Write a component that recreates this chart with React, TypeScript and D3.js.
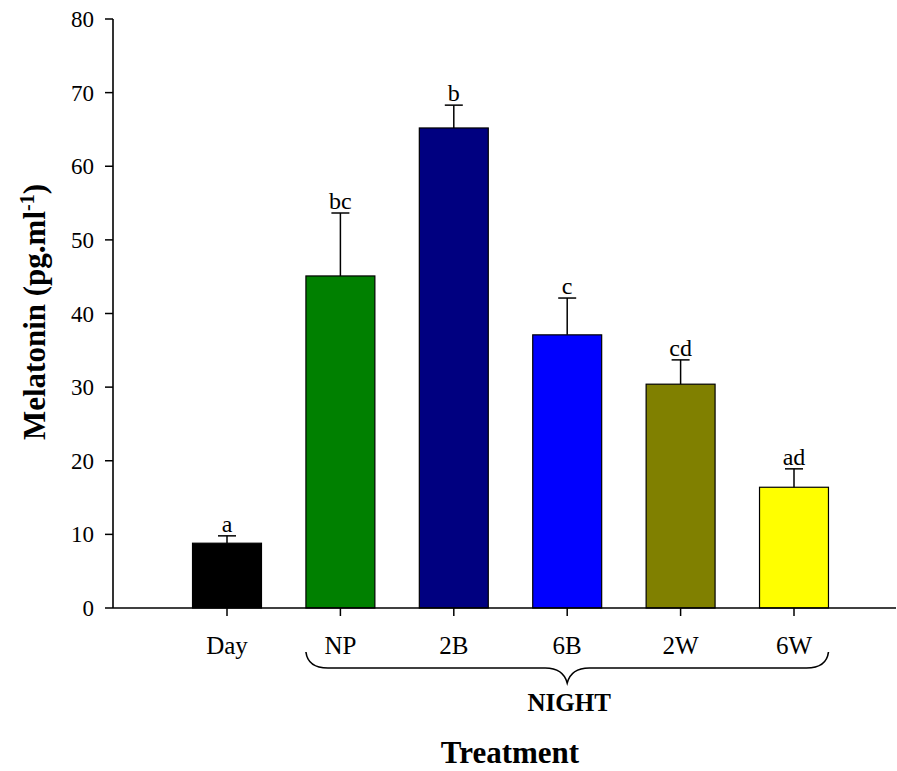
import React from "react";
import * as d3 from "d3";

const categories = ["Day", "NP", "2B", "6B", "2W", "6W"];
const means = [8.8, 45.1, 65.2, 37.1, 30.4, 16.4];
const errors = [1.0, 8.55, 3.1, 5.0, 3.3, 2.5];
const letters = ["a", "bc", "b", "c", "cd", "ad"];
const colors = ["#000000", "#008000", "#000080", "#0000ff", "#808000", "#ffff00"];
const yTicks = [0, 10, 20, 30, 40, 50, 60, 70, 80];
const nightGroup = ["NP", "2B", "6B", "2W", "6W"];

const W = 897;
const H = 771;
const font = "'Liberation Serif', 'Times New Roman', serif";

export default function App() {
  const y = d3.scaleLinear().domain([0, 80]).range([608, 19]);
  const x = d3
    .scaleBand<string>()
    .domain(categories)
    .range([170.3, 850.7])
    .paddingInner(0.392)
    .paddingOuter(0.196);
  const bw = x.bandwidth();
  const axisX = 113;
  const axisY = y(0);

  const bx0 = x(nightGroup[0])!;
  const bx1 = x(nightGroup[nightGroup.length - 1])! + bw;
  const mid = (bx0 + bx1) / 2;
  const by0 = 652;
  const by1 = 668;
  const by2 = 683;
  const brace = `M${bx0},${by0} Q${bx0 + 2},${by1} ${bx0 + 22},${by1} L${mid - 22},${by1} Q${mid - 4},${by1} ${mid},${by2} Q${mid + 4},${by1} ${mid + 22},${by1} L${bx1 - 22},${by1} Q${bx1 - 2},${by1} ${bx1},${by0}`;

  return (
    <svg
      width={W}
      height={H}
      style={{ position: "absolute", left: 0, top: 0, display: "block", background: "#fff" }}
      fontFamily={font}
    >
      {/* bars */}
      {categories.map((c, i) => (
        <rect
          key={c}
          x={x(c)!}
          y={y(means[i])}
          width={bw}
          height={axisY - y(means[i])}
          fill={colors[i]}
          stroke="#000"
          strokeWidth={1.2}
        />
      ))}
      {/* error bars */}
      {categories.map((c, i) => {
        const cx = x(c)! + bw / 2;
        const top = y(means[i] + errors[i]);
        return (
          <g key={c + "e"} stroke="#000" strokeWidth={1.5}>
            <line x1={cx} x2={cx} y1={y(means[i])} y2={top} />
            <line x1={cx - 9} x2={cx + 9} y1={top} y2={top} />
          </g>
        );
      })}
      {/* letters */}
      {categories.map((c, i) => (
        <text
          key={c + "l"}
          x={x(c)! + bw / 2}
          y={y(means[i] + errors[i]) - 4}
          textAnchor="middle"
          fontSize={24}
        >
          {letters[i]}
        </text>
      ))}
      {/* axes */}
      <line x1={axisX} x2={axisX} y1={y(80)} y2={axisY} stroke="#000" strokeWidth={1.6} />
      <line x1={axisX} x2={896} y1={axisY} y2={axisY} stroke="#000" strokeWidth={1.6} />
      {yTicks.map((t) => (
        <g key={t}>
          <line x1={axisX - 8} x2={axisX} y1={y(t)} y2={y(t)} stroke="#000" strokeWidth={1.5} />
          <text x={94} y={y(t)} dy="0.35em" textAnchor="end" fontSize={23}>
            {t}
          </text>
        </g>
      ))}
      {categories.map((c) => {
        const cx = x(c)! + bw / 2;
        return (
          <g key={c + "t"}>
            <line x1={cx} x2={cx} y1={axisY} y2={axisY + 8} stroke="#000" strokeWidth={1.5} />
            <text x={cx} y={654} textAnchor="middle" fontSize={25}>
              {c}
            </text>
          </g>
        );
      })}
      {/* brace */}
      <path d={brace} fill="none" stroke="#000" strokeWidth={1.6} />
      <text x={mid + 2} y={711} textAnchor="middle" fontSize={25} fontWeight="bold">
        NIGHT
      </text>
      <text x={510} y={763} textAnchor="middle" fontSize={31} fontWeight="bold">
        Treatment
      </text>
      <text
        transform={`translate(45, 312) rotate(-90)`}
        textAnchor="middle"
        fontSize={31}
        fontWeight="bold"
      >
        Melatonin (pg.ml
        <tspan dy={-11} fontSize={20}>
          -1
        </tspan>
        <tspan dy={11}>)</tspan>
      </text>
    </svg>
  );
}
